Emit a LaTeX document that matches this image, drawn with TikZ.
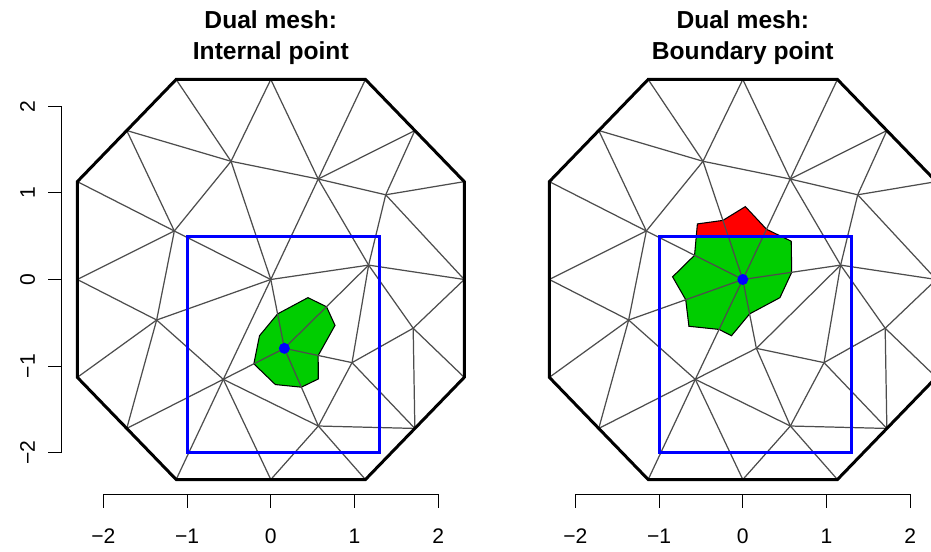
\documentclass[tikz,border=0pt]{standalone}
\usepackage{fontspec}
\setmainfont{Liberation Sans}
\usetikzlibrary{calc}
\definecolor{cellgreen}{RGB}{0,205,0}
\definecolor{meshgray}{RGB}{77,77,77}

%% ── Vertices of the mesh (same in both panels) ──────────────────────────
\newcommand{\meshpoints}{%
  \foreach \n/\vx/\vy in {b1/2.31/0, b2/2.31/1.13, b3/1.72/1.72, b4/1.13/2.31,
      b5/0/2.31, b6/-1.13/2.31, b7/-1.72/1.72, b8/-2.31/1.13,
      b9/-2.31/0, b10/-2.31/-1.13, b11/-1.72/-1.72, b12/-1.13/-2.31,
      b13/0/-2.31, b14/1.13/-2.31, b15/1.72/-1.72, b16/2.31/-1.13,
      m1/-0.475/1.365, m2/0.566/1.160, m3/1.372/0.978, m4/-1.152/0.560,
      m5/0/0, m6/1.168/0.166, m7/-1.363/-0.468, m8/0.162/-0.795,
      m9/1.700/-0.563, m10/0.970/-0.960, m11/-0.567/-1.153, m12/0.568/-1.692}
    \coordinate (\n) at (\vx,\vy);
  \coordinate (w1) at (-1,-2);
  \coordinate (w2) at (1.3,0.5);
}

%% ── Triangle edges and outer boundary ───────────────────────────────────
\newcommand{\meshlines}{%
  \foreach \a/\b in {b6/m1, b5/m1, b5/m2, b4/m2, b7/m1, m1/m2, m2/m3, m3/b2,
      b7/m4, b3/m2, b3/m3, b8/m4, m1/m4, m1/m5, m2/m5, m2/m6, m3/m6, m3/b1,
      m4/b9, m4/m5, m4/m7, m5/m6, m5/m7, m5/m8, m6/b1, m6/m8, m6/m9, m6/m10,
      b9/m7, b10/m7, m7/b11, m7/m11, m8/m11, m8/m10, m8/m12, b1/m9, b16/m9,
      m9/m10, m9/b15, m10/m12, m10/b15, m11/b11, m11/b12, m11/b13, m11/m12,
      m12/b13, m12/b14, m12/b15, m5/m11}
    \draw[meshline] (\a) -- (\b);
  \draw[rim] (b1) \foreach \i in {2,...,16}{ -- (b\i)} -- cycle;
}

%% dual cell: edge midpoints (e) and triangle centroids (t)
\newcommand{\dualpts}[2]{%
  \foreach \a/\b [count=\i] in {#2} {
    \coordinate (e\i) at ($(#1)!0.5!(\a)$);
    \coordinate (t\i) at ($0.33333*(#1)+0.33333*(\a)+0.33333*(\b)$);
  }}
\newcommand{\cellpath}[1]{(e1) -- (t1) \foreach \i in {2,...,#1}{ -- (e\i) -- (t\i)} -- cycle}

\begin{document}
\begin{tikzpicture}[
  meshline/.style={draw=meshgray, line width=0.7pt},
  rim/.style={draw=black, line width=1.7pt},
  win/.style={draw=blue, line width=1.7pt},
  dualcell/.style={draw=black, line width=0.6pt},
  axisline/.style={draw=black, line width=0.6pt},
  ttl/.style={font=\fontsize{14}{16}\selectfont\bfseries, anchor=base},
  ticklbl/.style={font=\fontsize{12}{14}\selectfont, anchor=base}
]
\useasboundingbox (0,0) rectangle (18.62,11.04);

%% ── Left panel: internal point ──────────────────────────────────────────
\begin{scope}[shift={(5.416,5.45)}, x=1.675cm, y=1.732cm]
  \meshpoints
  \dualpts{m8}{m6/m5, m5/m11, m11/m12, m12/m10, m10/m6}
  \filldraw[dualcell, fill=cellgreen] \cellpath{5};
  \meshlines
  \draw[win] (w1) rectangle (w2);
  \fill[blue] (m8) circle[radius=0.11cm];

  \node[ttl] (ttlA1) at (0,2.90)  {Dual mesh:};
  \node[ttl] (ttlA2) at (0,2.543) {Internal point};

  %% axes
  \draw[axisline] (-2,-2.48) -- (2,-2.48);
  \draw[axisline] (-2.497,-2) -- (-2.497,2);
  \foreach \t/\l [count=\i] in {-2/−2, -1/−1, 0/0, 1/1, 2/2} {
    \draw[axisline] (\t,-2.48) -- (\t,-2.642);
    \node[ticklbl] (xa\i) at (\t,-3.054) {\l};
    \draw[axisline] (-2.497,\t) -- (-2.657,\t);
    \node[ticklbl, rotate=90] (ya\i) at (-2.816,\t) {\l};
  }
\end{scope}

%% ── Right panel: boundary point ─────────────────────────────────────────
\begin{scope}[shift={(14.856,5.45)}, x=1.675cm, y=1.732cm]
  \meshpoints
  \dualpts{m5}{m6/m2, m2/m1, m1/m4, m4/m7, m7/m11, m11/m8, m8/m6}
  \fill[red] \cellpath{7};
  \begin{scope}
    \clip (w1) rectangle (w2);
    \fill[cellgreen] \cellpath{7};
  \end{scope}
  \draw[dualcell] \cellpath{7};
  \meshlines
  \draw[win] (w1) rectangle (w2);
  \fill[blue] (m5) circle[radius=0.11cm];

  \node[ttl] (ttlB1) at (0,2.90)  {Dual mesh:};
  \node[ttl] (ttlB2) at (0,2.543) {Boundary point};

  %% axis
  \draw[axisline] (-2,-2.48) -- (2,-2.48);
  \foreach \t/\l [count=\i] in {-2/−2, -1/−1, 0/0, 1/1, 2/2} {
    \draw[axisline] (\t,-2.48) -- (\t,-2.642);
    \node[ticklbl] (xb\i) at (\t,-3.054) {\l};
  }
\end{scope}

\end{tikzpicture}
\end{document}
